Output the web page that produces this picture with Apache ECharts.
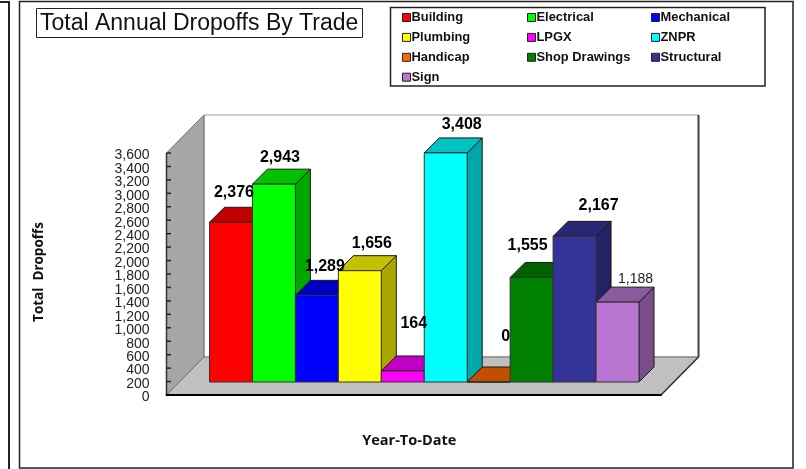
<!DOCTYPE html>
<html>
<head>
<meta charset="utf-8">
<title>Total Annual Dropoffs By Trade</title>
<script src="https://cdn.jsdelivr.net/npm/echarts@6/dist/echarts.min.js"></script>
<style>
  html, body { margin: 0; padding: 0; background: #fff; }
  #chart { width: 806px; height: 469px; }
</style>
</head>
<body>
<div id="chart"></div>
<script>
const trades = ['Building', 'Electrical', 'Mechanical', 'Plumbing', 'LPGX', 'ZNPR', 'Handicap', 'Shop Drawings', 'Structural', 'Sign'];
const dropoffs = [2376, 2943, 1289, 1656, 164, 3408, 0, 1555, 2167, 1188];
const colors = ['#ff0000', '#00ff00', '#0000ff', '#ffff00', '#ff00ff', '#00ffff', '#ff6600', '#008000', '#333399', '#b875d1'];
const yTicks = [0, 200, 400, 600, 800, 1000, 1200, 1400, 1600, 1800, 2000, 2200, 2400, 2600, 2800, 3000, 3200, 3400, 3600];
const period = ['Year-To-Date'];

// the labels were dragged by hand in the original, so each has its own nudge from the bar top
const labelShift = [[3, -30], [6, -27], [8, -29], [12, -27], [11, -47], [16, -28], [17, -45], [-4, -32], [24, -31], [18, -23]];

const wallDepth = [37.5, -38];
const barDepth = [15, -15];
const barInset = [43, -13];
const barWidth = 42.95;

function shade(hex, k) {
  const n = parseInt(hex.slice(1), 16);
  const c = [n >> 16, (n >> 8) & 255, n & 255].map(v => Math.round(v * k));
  return `rgb(${c.join(',')})`;
}

const chart = echarts.init(document.getElementById('chart'));

function renderWalls(params, api) {
  const { x, y, width, height } = params.coordSys;
  const [dx, dy] = wallDepth;
  const bottom = y + height;
  const right = x + width;
  // ticks sit on the wall, so they are drawn with it
  const ticks = yTicks.map(v => {
    const p = api.coord([0, v]);
    return { type: 'line', shape: { x1: x, y1: p[1], x2: x + 4.5, y2: p[1] }, style: { stroke: '#222', lineWidth: 1.5 } };
  });
  return {
    type: 'group',
    children: [
      { type: 'polygon', shape: { points: [[x + dx, y + dy], [right + dx, y + dy], [right + dx, bottom + dy], [x + dx, bottom + dy]] },
        style: { fill: '#fff', stroke: '#a0a0a0', lineWidth: 1 } },
      { type: 'line', shape: { x1: right + dx, y1: y + dy, x2: right + dx, y2: bottom + dy },
        style: { stroke: '#404040', lineWidth: 2 } },
      { type: 'polygon', shape: { points: [[x, y], [x + dx, y + dy], [x + dx, bottom + dy], [x, bottom]] },
        style: { fill: '#a6a6a6', stroke: '#6e6e6e', lineWidth: 1 } },
      { type: 'polygon', shape: { points: [[x, bottom], [x + dx, bottom + dy], [right + dx, bottom + dy], [right, bottom]] },
        style: { fill: '#c0c0c0', stroke: '#6e6e6e', lineWidth: 1 } },
      { type: 'line', shape: { x1: right, y1: bottom, x2: right + dx, y2: bottom + dy },
        style: { stroke: '#333', lineWidth: 1.5 } },
      { type: 'line', shape: { x1: x, y1: y, x2: x, y2: bottom },
        style: { stroke: '#333', lineWidth: 1.5 } },
      ...ticks
    ]
  };
}

function renderBar(index) {
  return function (params, api) {
    const base = api.coord([0, 0]);
    const top = api.coord([0, api.value(1)]);
    const left = params.coordSys.x + barInset[0] + index * barWidth;
    const right = left + barWidth;
    const y1 = top[1] + barInset[1];
    const y0 = base[1] + barInset[1];
    const [dx, dy] = barDepth;
    const color = colors[index];
    const edge = { stroke: '#1a1a1a', lineWidth: 1 };
    const [sx, sy] = labelShift[index];
    const plain = trades[index] === 'Sign';
    return {
      type: 'group',
      children: [
        { type: 'polygon', shape: { points: [[right, y1], [right + dx, y1 + dy], [right + dx, y0 + dy], [right, y0]] },
          style: { fill: shade(color, 0.66), ...edge } },
        { type: 'polygon', shape: { points: [[left, y1], [left + dx, y1 + dy], [right + dx, y1 + dy], [right, y1]] },
          style: { fill: shade(color, 0.76), ...edge } },
        { type: 'rect', shape: { x: left, y: y1, width: barWidth, height: y0 - y1 },
          style: { fill: color, stroke: '#333', lineWidth: 1 } },
        { type: 'text', z2: 100,
          style: {
            x: left + barWidth / 2 + sx, y: y1 + sy,
            text: echarts.format.addCommas(api.value(1)),
            align: 'center', verticalAlign: 'middle',
            fill: plain ? '#222' : '#000',
            font: plain ? '14px "Liberation Sans"' : 'bold 16px "Liberation Sans"'
          } }
      ]
    };
  };
}

const legendBase = {
  orient: 'vertical',
  top: 11,
  itemWidth: 8,
  itemHeight: 8,
  itemGap: 6.9,
  icon: 'rect',
  selectedMode: false,
  padding: 0,
  itemStyle: { borderColor: '#222', borderWidth: 1 },
  textStyle: { fontFamily: 'Liberation Sans', fontWeight: 'bold', fontSize: 12.9, color: '#111', padding: [0, 0, 0, -4] }
};

const tickLabel = {
  margin: 17,
  verticalAlign: 'top',
  hideOverlap: false,
  formatter: v => `{t|${echarts.format.addCommas(v)}}`,
  rich: { t: { fontFamily: 'Liberation Sans', fontSize: 14, color: '#222', lineHeight: 5, height: 5 } }
};

chart.setOption({
  animation: false,
  backgroundColor: '#fff',
  title: {
    text: 'Total Annual Dropoffs By Trade',
    left: 36,
    top: 8,
    padding: [4, 4, 2, 4],
    borderColor: '#222',
    borderWidth: 1,
    textStyle: { fontFamily: 'Liberation Sans', fontWeight: 'normal', fontSize: 23, color: '#111', lineHeight: 24 }
  },
  legend: [
    { ...legendBase, left: 402, data: [trades[0], trades[3], trades[6], trades[9]] },
    { ...legendBase, left: 527, data: [trades[1], trades[4], trades[7]] },
    { ...legendBase, left: 651, data: [trades[2], trades[5], trades[8]] }
  ],
  graphic: [
    { type: 'rect', silent: true, z: -1, shape: { x: 19.5, y: 1.5, width: 773.5, height: 466.5 }, style: { fill: 'none', stroke: '#222', lineWidth: 1.5 } },
    { type: 'rect', silent: true, z: -1, shape: { x: 390.5, y: 7.5, width: 374.5, height: 78.5 }, style: { fill: '#fff', stroke: '#222', lineWidth: 1.5 } },
    { type: 'polyline', silent: true, z: -1, shape: { points: [[0, 2], [9, 2], [9, 469]] }, style: { fill: 'none', stroke: '#222', lineWidth: 2 } }
  ],
  grid: { left: 166.5, right: 145, top: 153, bottom: 74, containLabel: false },
  xAxis: {
    type: 'category',
    z: 5,
    data: period,
    name: period[0],
    nameLocation: 'middle',
    nameGap: 38,
    nameTextStyle: { fontFamily: 'Open Sans', fontWeight: 'bold', fontSize: 14.5, color: '#111', padding: [0, 9, 0, 0] },
    axisLine: { show: true, lineStyle: { color: '#000', width: 2 } },
    axisTick: { show: false },
    axisLabel: { show: false }
  },
  yAxis: [
    {
      type: 'value',
      z: 5,
      min: 0,
      max: 3600,
      interval: 200,
      name: 'Total  Dropoffs',
      nameLocation: 'middle',
      nameGap: 120.5,
      nameRotate: 90,
      nameTextStyle: { fontFamily: 'Open Sans', fontWeight: 'bold', fontSize: 13.5, color: '#111', padding: [0, 0, 0, 4] },
      axisLine: { show: false },
      axisTick: { show: false },
      axisLabel: { ...tickLabel, showMinLabel: false, showMaxLabel: false },
      splitLine: { show: false }
    },
    {
      // 0 and 3,600 get dropped as overlapping on the packed axis, so a twin axis carries them
      type: 'value',
      position: 'left',
      min: 0,
      max: 3600,
      axisLine: { show: false },
      axisTick: { show: false },
      axisLabel: { ...tickLabel, customValues: [yTicks[0], yTicks[yTicks.length - 1]] },
      splitLine: { show: false }
    }
  ],
  series: [
    { type: 'custom', name: 'walls', z: 1, silent: true, renderItem: renderWalls, data: [[0, 0]], encode: { x: 0, y: 1 } },
    ...trades.map((name, i) => ({
      type: 'custom',
      name,
      z: 3,
      itemStyle: { color: colors[i] },
      renderItem: renderBar(i),
      data: [[0, dropoffs[i]]],
      encode: { x: 0, y: 1 }
    }))
  ]
});
</script>
</body>
</html>
